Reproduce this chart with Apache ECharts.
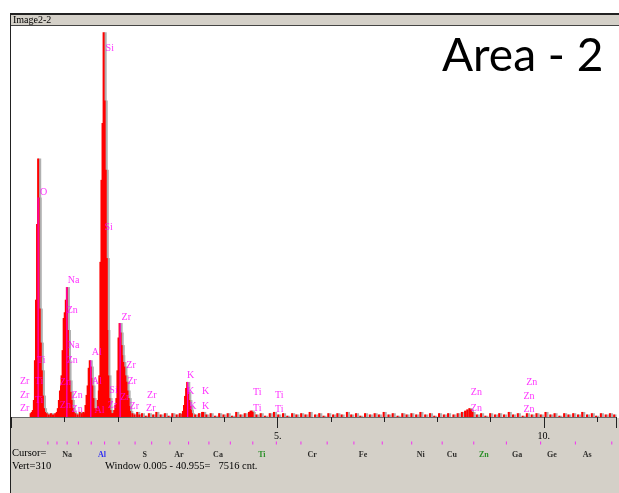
<!DOCTYPE html>
<html><head><meta charset="utf-8">
<script src="https://cdn.jsdelivr.net/npm/echarts@6/dist/echarts.min.js"></script>
<style>html,body{margin:0;padding:0;background:#fff}#c{width:619px;height:493px}</style>
</head><body><div id="c"></div>
<script>
// ---- data (keV, counts) ----
const lowBackground = [[0.36,3],[0.38,4],[0.63,4],[0.66,3],[0.70,2],[0.74,3],[0.78,2],[0.82,3],[1.20,3],[1.24,2],[1.28,4],[1.32,3],[1.35,4],[1.90,3]];
const oPeak  = [[0.40,5.5],[0.42,13.5],[0.44,45],[0.46,93],[0.48,153],[0.50,205],[0.51,174],[0.53,86],[0.55,59],[0.57,37],[0.59,17],[0.61,7]];
const naPeak = [[0.85,4],[0.87,7],[0.89,13.5],[0.91,21],[0.93,25],[0.94,33],[0.96,53],[0.98,78.5],[1.00,83],[1.02,93],[1.04,103],[1.06,69],[1.07,45],[1.09,29],[1.11,20],[1.13,13.5],[1.15,7],[1.17,4]];
const alPeak = [[1.37,3],[1.39,9.5],[1.41,17.5],[1.43,25],[1.45,39],[1.47,45],[1.49,40],[1.50,31],[1.52,25],[1.54,15],[1.56,7]];
const siPeak = [[1.58,5],[1.60,7],[1.62,13.5],[1.64,21],[1.65,33],[1.67,123],[1.69,188],[1.71,233],[1.73,305],[1.75,251],[1.77,196],[1.79,126],[1.80,69],[1.82,33],[1.84,15],[1.86,5.5],[1.88,3]];
const zrPeak = [[1.92,3],[1.93,5.5],[1.95,9.5],[1.97,15],[1.99,37],[2.01,63],[2.03,74.5],[2.05,67],[2.07,57],[2.08,49],[2.10,43.6],[2.12,40],[2.14,33],[2.16,28],[2.18,21],[2.20,15],[2.21,8.7],[2.23,4.8]];
const kPeak  = [[3.21,2.4],[3.22,4.8],[3.24,9.5],[3.26,16.7],[3.28,23],[3.30,27.8],[3.32,20],[3.34,13.5],[3.36,8.7],[3.37,5.5],[3.39,3]];
const highBackground = [[2.27,3],[2.31,2],[2.36,4],[2.40,2],[2.45,3],[2.52,1],[2.58,3],[2.66,2],[2.72,4],[2.80,2],[2.88,3],[2.95,1],[3.02,3],[3.10,2],[3.16,3],
 [3.45,2],[3.52,3],[3.58,4],[3.60,4],[3.66,2],[3.74,3],[3.82,1],[3.90,3],[3.98,2],[4.06,3],[4.14,1],[4.22,4],[4.30,2],[4.38,3],[4.46,4],[4.49,5],[4.51,5],[4.53,4],
 [4.60,2],[4.68,3],[4.76,1],[4.85,3],[4.93,4],[5.01,2],[5.10,3],[5.18,1],[5.27,3],[5.35,2],[5.44,3],[5.52,2],[5.60,4],[5.70,2],[5.78,3],[5.86,1],[5.95,3],
 [6.04,2],[6.12,3],[6.20,2],[6.30,4],[6.38,2],[6.47,3],[6.55,1],[6.64,3],[6.73,2],[6.82,3],[6.90,2],[6.99,4],[7.08,2],[7.16,3],[7.25,1],[7.34,3],[7.42,2],
 [7.51,3],[7.60,2],[7.68,4],[7.77,2],[7.86,3],[7.94,1],[8.03,3],[8.12,2],[8.20,3],[8.30,2],[8.38,3],[8.46,4],[8.52,5],[8.56,6],[8.60,7],[8.63,6],[8.66,4],
 [8.74,2],[8.82,3],[8.90,1],[8.99,3],[9.08,2],[9.16,3],[9.25,2],[9.34,4],[9.42,2],[9.51,3],[9.60,1],[9.68,3],[9.77,2],[9.86,3],[9.94,2],[10.03,4],[10.12,2],
 [10.20,3],[10.29,1],[10.38,3],[10.46,2],[10.55,3],[10.64,2],[10.72,4],[10.81,2],[10.90,3],[10.98,1],[11.07,3],[11.16,2],[11.24,3],[11.32,2]];
// KLM markers: element, keV, marker height (counts)
const klmMarkers = [
 ['Zr',0.12,25.4],['Zr',0.12,14.3],['Zr',0.12,4],
 ['Ti',0.44,42],['Ti',0.40,25.4],['Ti',0.40,10.3],
 ['O',0.50,175],
 ['Na',1.02,105],['Zn',1.00,81],['Na',1.02,54],['Zn',1.00,42],['Zn',0.87,24],['Zn',1.09,14],['Zn',0.87,6],['Zn',1.09,3],
 ['Al',1.47,48],['Al',1.47,25],['Al',1.52,2.4],
 ['Si',1.73,289],['Si',1.71,147],['Si',1.80,18],['Zr',1.77,6],
 ['Zr',2.03,76],['Zr',2.12,38],['Zr',2.14,25],['Zr',2.00,12],['Zr',2.18,5],['Zr',2.51,14],['Zr',2.49,4],
 ['K',3.26,30],['K',3.26,17],['K',3.54,17],['K',3.30,5],['K',3.54,5],
 ['Ti',4.50,16],['Ti',4.50,4],['Ti',4.91,14],['Ti',4.91,3],
 ['Zn',8.59,16],['Zn',8.59,4],['Zn',9.63,24],['Zn',9.58,13.5],['Zn',9.58,3]];
const markerLines = [[0.50,174],[1.04,103],[1.49,45],[2.04,74.5],[3.31,27.8]];
const elementTickKeV = [0.68,0.85,1.04,1.25,1.49,1.74,2.01,2.31,2.62,2.96,3.31,3.69,4.09,4.51,4.95,5.41,5.90,6.40,6.93,7.48,8.05,8.64,9.25,9.89,10.54,11.22];
const elementLabels = ['Na','Al','S','Ar','Ca','Ti','Cr','Fe','Ni','Cu','Zn','Ga','Ge','As'];
const elementLabelKeV = [1.04,1.69,2.49,3.13,3.86,4.68,5.62,6.57,7.65,8.23,8.83,9.45,10.10,10.76];
const elementLabelColors = {Al:'#0000ff', Ti:'#008000', Zn:'#008000'};
const xTickLabels = {5:'5.', 10:'10.'};
const vertScale = 310;
const xMax = 11.355;

const spectrum = [].concat(lowBackground, oPeak, naPeak, alPeak, siPeak, zrPeak, kPeak, highBackground).sort((a,b)=>a[0]-b[0]);

const chart = echarts.init(document.getElementById('c'), null, {renderer:'canvas'});
const hiddenX = (grid, min, max) => ({type:'value', gridIndex:grid, position:'bottom', min, max, show:false});
chart.setOption({
  animation:false,
  backgroundColor:'#ffffff',
  grid:[{left:11.5, top:26, width:607.5, height:391},
        {left:11.5, top:440, width:607.5, height:20}],
  xAxis:[
    {type:'value', gridIndex:0, position:'bottom', min:0, max:xMax, interval:1, splitLine:{show:false},
     axisLine:{onZero:false, lineStyle:{color:'#6a6a6a', width:1}},
     axisTick:{length:5, lineStyle:{color:'#222'}}, axisLabel:{show:false}},
    hiddenX(0, -0.03, xMax-0.03),
    {type:'value', gridIndex:0, position:'bottom', offset:0, min:0, max:xMax, interval:5, splitLine:{show:false},
     axisLine:{show:false, onZero:false}, axisTick:{length:11, lineStyle:{color:'#222'}},
     axisLabel:{margin:14, color:'#000', fontFamily:'Liberation Serif', fontSize:10,
       formatter:v=>xTickLabels[v]||''}},
    hiddenX(1, 0, xMax),
    hiddenX(0, 0, xMax)
  ],
  yAxis:[{type:'value', gridIndex:0, min:0, max:vertScale, show:false},
         {type:'value', gridIndex:1, min:0, max:1, show:false}],
  series:[
    {type:'bar', xAxisIndex:1, yAxisIndex:0, barWidth:3, data:spectrum, itemStyle:{color:'#b0b0b0'}, z:1},
    {type:'bar', xAxisIndex:0, yAxisIndex:0, barWidth:2, data:spectrum, itemStyle:{color:'#ff0000'}, z:2},
    {type:'bar', xAxisIndex:4, yAxisIndex:0, barWidth:1, data:markerLines, itemStyle:{color:'#ff00ff'}, z:3},
    {type:'scatter', xAxisIndex:0, yAxisIndex:0, symbolSize:0, z:4,
     data:klmMarkers.map(m=>({value:[m[1],m[2]], name:m[0]})),
     label:{show:true, formatter:p=>p.name, position:[2,1], align:'left', verticalAlign:'bottom',
       color:'#ff00ff', fontFamily:'Liberation Serif', fontSize:10}},
    {type:'scatter', xAxisIndex:3, yAxisIndex:1, symbol:'rect', symbolSize:[1,3],
     itemStyle:{color:'#ff00ff'}, data:elementTickKeV.map(e=>[e,0.85])},
    {type:'scatter', xAxisIndex:3, yAxisIndex:1, symbolSize:0,
     data:elementLabels.map((n,i)=>({value:[elementLabelKeV[i],0.25], name:n, label:{color:elementLabelColors[n]||'#000'}})),
     label:{show:true, position:'inside', formatter:p=>p.name, fontFamily:'Liberation Serif', fontSize:8, fontWeight:'bold'}}
  ],
  graphic:[
    {type:'rect', shape:{x:11, y:418, width:608, height:75}, style:{fill:'#d4d0c8'}, z:-10, silent:true},
    {type:'rect', shape:{x:11, y:15, width:608, height:10}, style:{fill:'#d4d0c8'}, z:-10},
    {type:'rect', shape:{x:10, y:13, width:609, height:2}, style:{fill:'#222'}, z:-9},
    {type:'rect', shape:{x:11, y:25, width:608, height:1}, style:{fill:'#444'}, z:-9},
    {type:'rect', shape:{x:10, y:13, width:1, height:480}, style:{fill:'#222'}, z:-9},
    {type:'text', x:13, y:20, style:{text:'Image2-2', font:'10px "Liberation Serif"', fill:'#000', verticalAlign:'middle'}},
    {type:'text', x:442, y:56, style:{text:'Area - 2', font:'46px Lato', fill:'#000', verticalAlign:'middle'}},
    {type:'text', x:12, y:453, style:{text:'Cursor=', font:'10.5px "Liberation Serif"', fill:'#000', verticalAlign:'middle'}},
    {type:'text', x:12, y:466, style:{text:'Vert=310', font:'10.5px "Liberation Serif"', fill:'#000', verticalAlign:'middle'}},
    {type:'text', x:105, y:466, style:{text:'Window 0.005 - 40.955=   7516 cnt.', font:'10.5px "Liberation Serif"', fill:'#000', verticalAlign:'middle'}}
  ]
});
</script></body></html>
